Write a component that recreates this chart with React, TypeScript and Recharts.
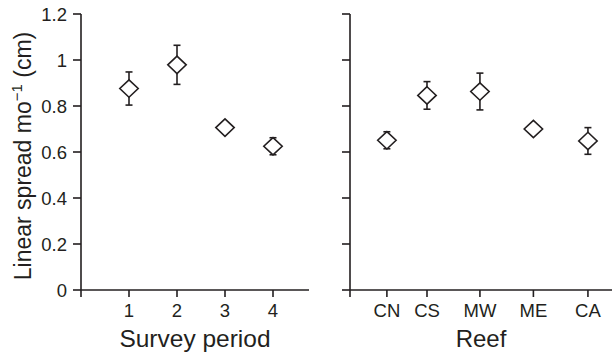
import React from 'react';
import { ScatterChart, Scatter, XAxis, YAxis, ErrorBar } from 'recharts';

const surveyPeriods = [1, 2, 3, 4];
const surveyMeans = [0.876, 0.979, 0.706, 0.625];
const surveyErrors = [0.072, 0.085, 0.01, 0.037];

const reefNames = ['CN', 'CS', 'MW', 'ME', 'CA'];
const reefPositions = [0.69, 1.44, 2.43, 3.43, 4.45];
const reefMeans = [0.651, 0.846, 0.863, 0.7, 0.648];
const reefErrors = [0.037, 0.06, 0.08, 0.01, 0.058];

const yTicks = [0, 0.2, 0.4, 0.6, 0.8, 1, 1.2];

const INK = '#231f20';
const FONT = '"Liberation Sans", Arial, Helvetica, sans-serif';

const surveyData = surveyPeriods.map((p, i) => ({ x: p, y: surveyMeans[i], err: surveyErrors[i] }));
const reefData = reefPositions.map((p, i) => ({ x: p, y: reefMeans[i], err: reefErrors[i] }));

const Diamond = (props: any) => {
  const { cx, cy } = props;
  if (cx == null || cy == null) return null;
  const w = 9.2;
  const h = 8.7;
  return (
    <polygon
      points={`${cx},${cy - h} ${cx + w},${cy} ${cx},${cy + h} ${cx - w},${cy}`}
      fill="#fff"
      stroke={INK}
      strokeWidth={1.6}
    />
  );
};

const YTitle = () => {
  const x = 31;
  const y = 156;
  return (
    <text
      x={x}
      y={y}
      transform={`rotate(-90, ${x}, ${y})`}
      textAnchor="middle"
      fontSize={23}
      fill={INK}
      fontFamily={FONT}
    >
      Linear spread mo
      <tspan fontSize={15} dy={-9}>−1</tspan>
      <tspan dy={9}> (cm)</tspan>
    </text>
  );
};

const axisProps = {
  stroke: INK,
  strokeWidth: 1.6,
  tickLine: { stroke: INK, strokeWidth: 1.6 },
};

const tickStyle = { fill: INK, fontSize: 18.5, fontFamily: FONT };

export default function App() {
  return (
    <div style={{ position: 'absolute', left: 0, top: 0, width: 612, height: 355, background: '#fff', overflow: 'hidden' }}>
      <div style={{ position: 'absolute', left: 0, top: 0 }}>
        <ScatterChart width={320} height={355} margin={{ top: 14, right: 11, bottom: 5, left: 21 }}>
          <XAxis
            type="number"
            dataKey="x"
            domain={[0, 4.75]}
            ticks={[0, 1, 2, 3, 4]}
            tickFormatter={(v: number) => (v === 0 ? '' : String(v))}
            height={60}
            tickSize={7}
            tickMargin={7}
            tick={tickStyle}
            allowDataOverflow
            {...axisProps}
            label={{ value: 'Survey period', position: 'insideBottom', offset: 3, fill: INK, fontSize: 24.5, fontFamily: FONT }}
          />
          <YAxis
            type="number"
            dataKey="y"
            domain={[0, 1.2]}
            ticks={yTicks}
            width={60}
            tickSize={8}
            tickMargin={6}
            tick={tickStyle}
            {...axisProps}
            label={<YTitle />}
          />
          <Scatter data={surveyData} shape={<Diamond />} isAnimationActive={false}>
            <ErrorBar dataKey="err" direction="y" width={3.5} stroke={INK} strokeWidth={1.6} />
          </Scatter>
        </ScatterChart>
      </div>
      <div style={{ position: 'absolute', left: 300, top: 0 }}>
        <ScatterChart width={312} height={355} margin={{ top: 14, right: 0, bottom: 5, left: 10 }}>
          <XAxis
            type="number"
            dataKey="x"
            domain={[0, 4.9]}
            ticks={[0, ...reefPositions]}
            tickFormatter={(v: number) => reefNames[reefPositions.indexOf(v)] ?? ''}
            height={60}
            tickSize={7}
            tickMargin={7}
            tick={tickStyle}
            allowDataOverflow
            {...axisProps}
            label={{ value: 'Reef', position: 'insideBottom', offset: 3, fill: INK, fontSize: 24, fontFamily: FONT }}
          />
          <YAxis
            type="number"
            dataKey="y"
            domain={[0, 1.2]}
            ticks={yTicks}
            width={40}
            tickSize={8}
            tickFormatter={() => ''}
            tick={tickStyle}
            {...axisProps}
          />
          <Scatter data={reefData} shape={<Diamond />} isAnimationActive={false}>
            <ErrorBar dataKey="err" direction="y" width={3.5} stroke={INK} strokeWidth={1.6} />
          </Scatter>
        </ScatterChart>
      </div>
    </div>
  );
}
